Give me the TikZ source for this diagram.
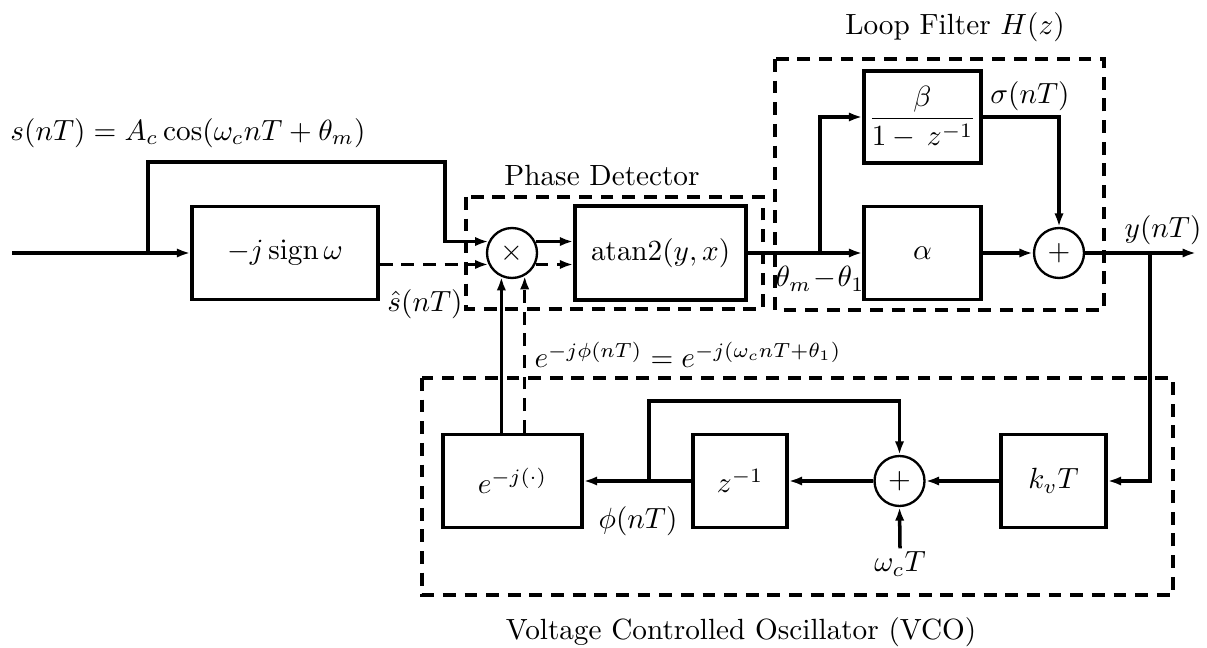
\documentclass[tikz,border=0pt]{standalone}
\usepackage{amsmath}
\usepackage{amssymb}
\usetikzlibrary{calc, positioning}
\usetikzlibrary{arrows.meta}

\begin{document}
\begin{tikzpicture}[x=0.01202cm,y=-0.01202cm,
  block/.style={draw,line width=1.2pt,inner sep=0pt},
  summer/.style={draw,circle,line width=0.8pt,inner sep=0pt,minimum size=0.601cm},
  sig/.style={line width=1.2pt,-{Latex[length=4.6pt,width=3.2pt]}},
  qsig/.style={sig,dash pattern=on 4.4pt off 3pt},
  grp/.style={line width=1.2pt,dash pattern=on 4.4pt off 3pt}]
\useasboundingbox (0,0) rectangle (1207,648);

% Blocks of the loop.
\node[block,minimum width=2.236cm,minimum height=1.118cm] (hilb) at (285,253) {$-j\operatorname{sign}\omega$};
\node[summer] (mult) at (512,253) {$\times$};
\node[block,minimum width=2.055cm,minimum height=1.130cm] (atan) at (660.5,253) {$\mathrm{atan2}(y,x)$};
\node[block,minimum width=1.406cm,minimum height=1.106cm] (beta) at (922.5,117) {$\displaystyle\frac{\beta}{1-\,z^{-1}}$};
\node[block,minimum width=1.406cm,minimum height=1.118cm] (alpha) at (922.5,253) {$\alpha$};
\node[summer] (sumlf) at (1059,253) {$+$};
\node[block,minimum width=1.671cm,minimum height=1.118cm] (expo) at (512.5,481) {$e^{-j(\cdot)}$};
\node[block,minimum width=1.130cm,minimum height=1.118cm] (zinv) at (740,481) {$z^{-1}$};
\node[summer] (sumvco) at (899.5,481) {$+$};
\node[block,minimum width=1.262cm,minimum height=1.118cm] (kvt) at (1053.5,481) {$k_vT$};

% Dashed groups.
\draw[grp] (466,197) rectangle (763,309);
\draw[grp] (775,59) rectangle (1104,310);
\draw[grp] (422,378) rectangle (1173,595);

% Signal labels.
\node (sin) at (188,133) {$s(nT) = A_c\cos(\omega_c nT+\theta_m)$};
\node[inner sep=0pt] (shat) at (425,304) {$\hat{s}(nT)$};
\node (pdl) at (602,176) {Phase Detector};
\node (lfl) at (955,27) {Loop Filter $H(z)$};
\node (vcol) at (741,632) {Voltage Controlled Oscillator (VCO)};
\node[inner sep=0pt] (err) at (820,279) {$\theta_m\!-\!\theta_1$};
\node (sgm) at (1030,96) {$\sigma(nT)$};
\node (yout) at (1163,230) {$y(nT)$};
\node (fb) at (688,355) {$e^{-j\phi(nT)} = e^{-j(\omega_c nT+\theta_1)}$};
\node (phi) at (638,521) {$\phi(nT)$};
\node[inner sep=1pt] (wct) at (900,564) {$\omega_cT$};

% Junctions.
\coordinate (in) at (12,253);
\coordinate (br) at (148,253);
\coordinate (ffc) at (445,162);
\coordinate (lfb) at (820,253);
\coordinate (out) at (1196,253);
\coordinate (fbk) at (1150,253);
\coordinate (vcb) at (649,481);
\coordinate (vct) at (649,401);

% Input and quadrature branch.
\draw[sig] (in) -- (hilb.west);
\draw[sig] (br) |- (ffc) |- (mult.154);
\draw[qsig] (hilb.east |- mult.206) -- (mult.206);
\draw[sig] (mult.26) -- (atan.west |- mult.26);
\draw[qsig] (mult.-26) -- (atan.west |- mult.-26);

% Loop filter.
\draw[sig] (atan.east) -- (alpha.west);
\draw[sig] (lfb) |- (beta.west);
\draw[sig] (beta.east) -| (sumlf.north);
\draw[sig] (alpha.east) -- (sumlf.west);
\draw[sig] (sumlf.east) -- (out);

% VCO.
\draw[sig] (fbk) |- (kvt.east);
\draw[sig] (kvt.west) -- (sumvco.east);
\draw[sig] (sumvco.west) -- (zinv.east);
\draw[sig] (zinv.west) -- (expo.east);
\draw[sig] (vcb) -- (vct) -| (sumvco.north);
\draw[sig] (wct.north) -- (sumvco.south);
\draw[sig] (expo.north -| mult.246) -- (mult.246);
\draw[qsig] (expo.north -| mult.299) -- (mult.299);
\end{tikzpicture}
\end{document}
